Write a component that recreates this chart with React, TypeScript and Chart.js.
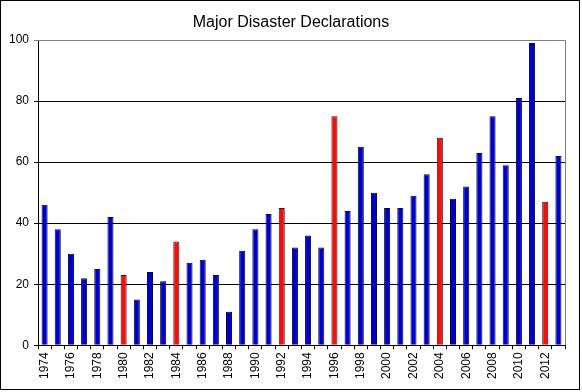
import React, { useEffect, useRef } from "react";
import { Chart, registerables } from "chart.js";

Chart.register(...registerables);

const title = "Major Disaster Declarations";
const years: string[] = [
  "1974","1975","1976","1977","1978","1979","1980","1981","1982","1983",
  "1984","1985","1986","1987","1988","1989","1990","1991","1992","1993",
  "1994","1995","1996","1997","1998","1999","2000","2001","2002","2003",
  "2004","2005","2006","2007","2008","2009","2010","2011","2012","2013",
];
const declarations: number[] = [
  46, 38, 30, 22, 25, 42, 23, 15, 24, 21,
  34, 27, 28, 23, 11, 31, 38, 43, 45, 32,
  36, 32, 75, 44, 65, 50, 45, 45, 49, 56,
  68, 48, 52, 63, 75, 59, 81, 99, 47, 62,
];
const redYears: string[] = ["1980", "1984", "1992", "1996", "2004", "2012"];
const yTicks: number[] = [0, 20, 40, 60, 80, 100];

const frame = {
  id: "frame",
  afterDraw(chart: any) {
    const { ctx, chartArea, width, height } = chart;
    ctx.save();
    ctx.lineWidth = 1;
    ctx.strokeStyle = "#808080";
    ctx.beginPath();
    ctx.moveTo(chartArea.left, chartArea.top + 0.5);
    ctx.lineTo(chartArea.right + 0.5, chartArea.top + 0.5);
    ctx.lineTo(chartArea.right + 0.5, chartArea.bottom);
    ctx.stroke();
    ctx.strokeStyle = "#000";
    ctx.strokeRect(0.5, 0.5, width - 3, height - 3);
    ctx.fillStyle = "#000";
    ctx.font = "16px 'Liberation Sans', Arial, sans-serif";
    ctx.textAlign = "center";
    ctx.textBaseline = "alphabetic";
    ctx.fillText(title, width / 2, 27);
    ctx.restore();
  },
};

export default function App() {
  const ref = useRef<HTMLCanvasElement>(null);
  useEffect(() => {
    const font = { family: "'Liberation Sans', Arial, sans-serif", size: 12 };
    const chart = new Chart(ref.current!, {
      type: "bar",
      data: {
        labels: years,
        datasets: [
          {
            data: declarations,
            backgroundColor: years.map((y) => (redYears.includes(y) ? "#EE1111" : "#0000CC")),
            borderColor: years.map((y) => (redYears.includes(y) ? "#550000" : "#000044")),
            borderWidth: 1,
            barPercentage: 0.46,
            categoryPercentage: 1,
          },
        ],
      },
      options: {
        animation: false,
        responsive: false,
        maintainAspectRatio: false,
        layout: { padding: { left: 4, right: 17, top: 40, bottom: 10 } },
        plugins: {
          legend: { display: false },
          tooltip: { enabled: false },
          title: { display: false },
        },
        scales: {
          x: {
            grid: {
              drawOnChartArea: false,
              offset: true,
              tickLength: 4,
              color: "#000",
            },
            border: { color: "#000" },
            ticks: {
              autoSkip: false,
              maxRotation: 90,
              minRotation: 90,
              color: "#000",
              font,
              padding: 3,
              callback: (_v: any, i: number) => (i % 2 === 0 ? years[i] : ""),
            },
          },
          y: {
            min: 0,
            max: 100,
            afterBuildTicks: (scale: any) => {
              scale.ticks = yTicks.map((v) => ({ value: v }));
            },
            afterFit: (scale: any) => {
              scale.width = 34;
            },
            grid: {
              color: (c: any) => (c.tick && c.tick.value === 100 ? "#808080" : "#000"),
              tickLength: 4,
            },
            border: { color: "#000" },
            ticks: { color: "#000", font, padding: 5 },
          },
        },
      },
      plugins: [frame],
    } as any);
    return () => chart.destroy();
  }, []);
  return (
    <div style={{ position: "absolute", left: 0, top: 0, width: 582, height: 392, background: "#fff" }}>
      <canvas ref={ref} width={582} height={392} />
    </div>
  );
}
